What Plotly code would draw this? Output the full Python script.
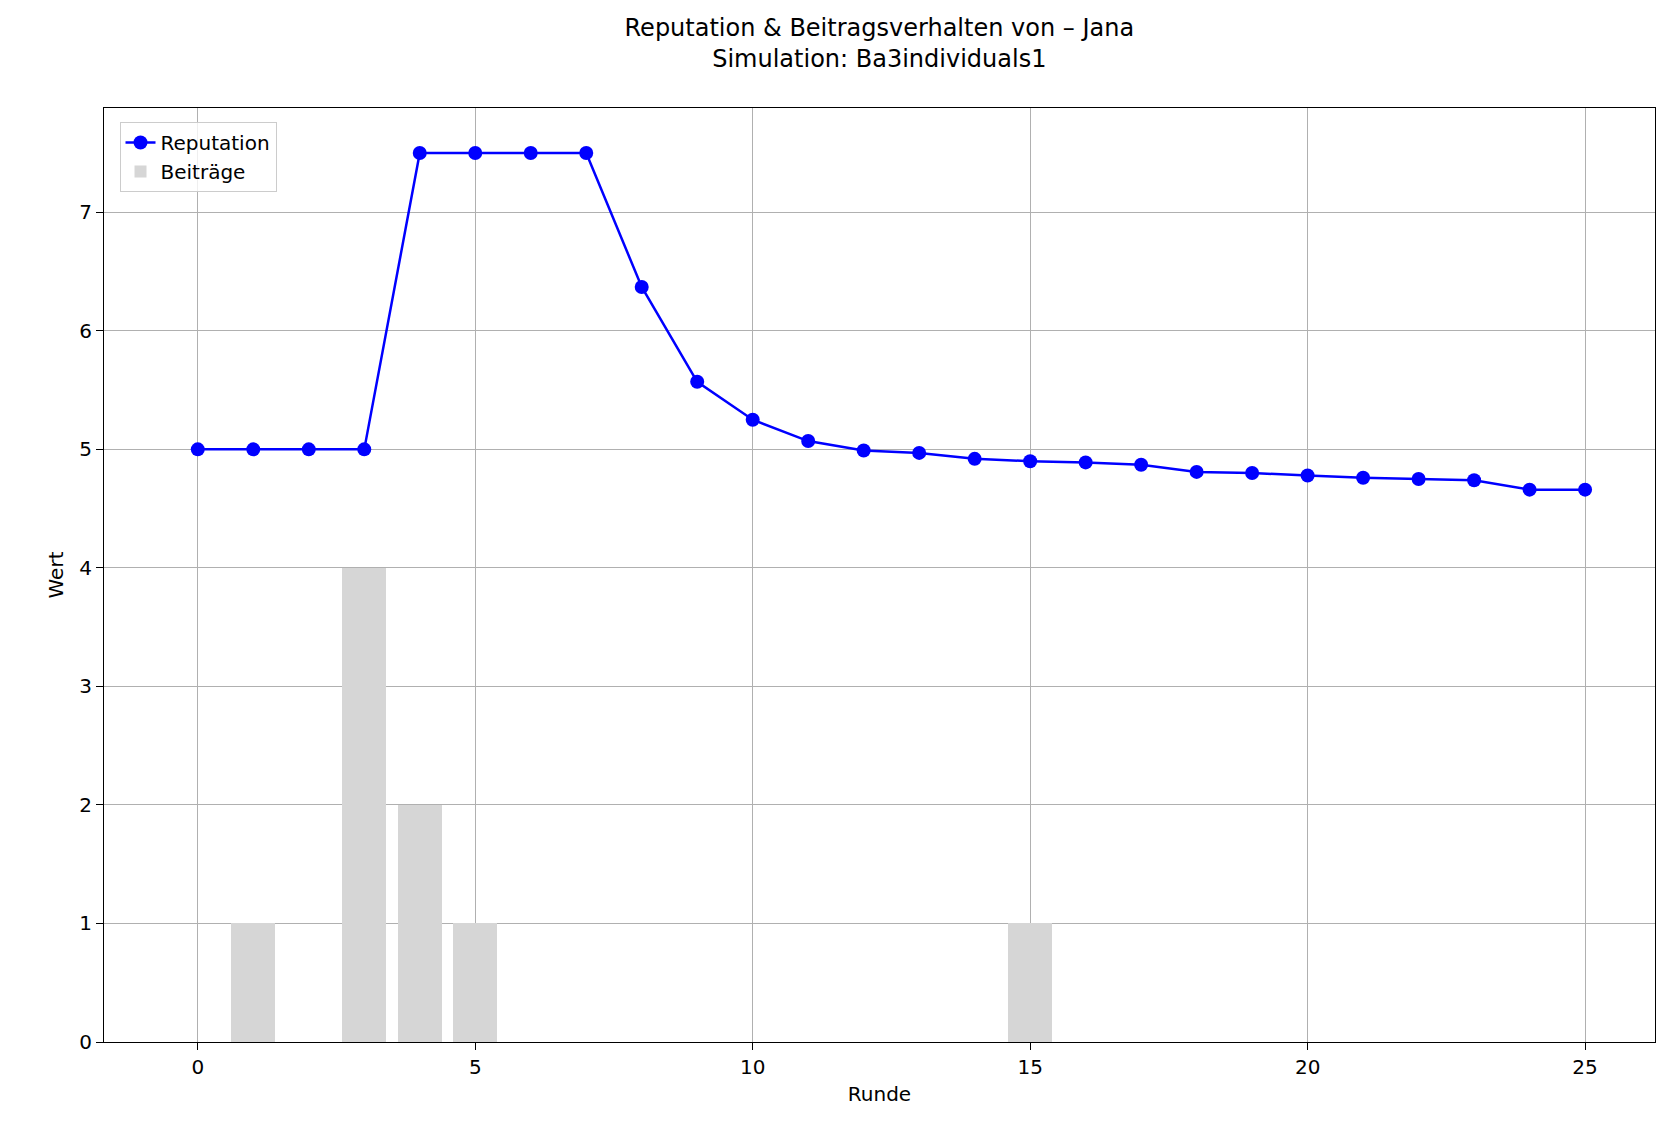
import plotly.graph_objects as go

runden = list(range(26))
reputation = [5, 5, 5, 5, 7.5, 7.5, 7.5, 7.5, 6.37, 5.57, 5.25, 5.07, 4.99, 4.97,
              4.92, 4.90, 4.89, 4.87, 4.81, 4.80, 4.78, 4.76, 4.75, 4.74, 4.66, 4.66]
beitrag_runden = [1, 3, 4, 5, 15]
beitraege = [1, 4, 2, 1, 1]

fig = go.Figure()
fig.add_trace(go.Bar(x=beitrag_runden, y=beitraege, width=0.8, name="Beiträge",
                     marker=dict(color="#d6d6d6", line=dict(width=0))))
fig.add_trace(go.Scatter(x=runden, y=reputation, mode="lines+markers", name="Reputation",
                         line=dict(color="blue", width=2.5),
                         marker=dict(color="blue", size=14)))

axis_style = dict(showline=True, linecolor="black", mirror=True, ticks="outside",
                  ticklen=7, tickcolor="black", showgrid=True, gridcolor="#b0b0b0",
                  gridwidth=1, zeroline=False, tickfont=dict(size=20, color="black"),
                  title_font=dict(size=20, color="black"))

fig.update_layout(
    width=1666, height=1131,
    paper_bgcolor="white", plot_bgcolor="white",
    font=dict(family="DejaVu Sans", color="black"),
    title=dict(text="Reputation & Beitragsverhalten von – Jana<br>Simulation: Ba3individuals1",
               x=0.523, y=0.975, xanchor="center", font=dict(size=24)),
    margin=dict(l=96, r=19, t=100, b=97),
    showlegend=True,
    legend=dict(x=0.01, y=0.985, xanchor="left", yanchor="top", traceorder="reversed",
                bordercolor="#cccccc", borderwidth=1, bgcolor="rgba(255,255,255,0.8)",
                font=dict(size=20)),
    bargap=0,
)
fig.update_xaxes(axis_style, range=[-1.69, 26.26], tickvals=[0, 5, 10, 15, 20, 25],
                 title_text="Runde", title_standoff=8)
fig.update_yaxes(axis_style, range=[0, 7.88], tickvals=list(range(8)), title_text="Wert",
                 title_standoff=10)

fig.write_html("out.html")
